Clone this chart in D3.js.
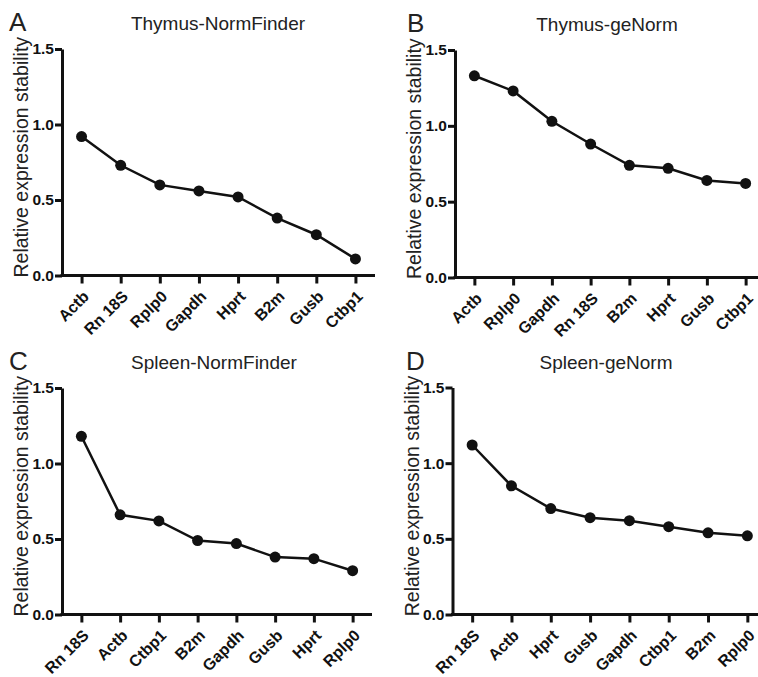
<!DOCTYPE html>
<html>
<head>
<meta charset="utf-8">
<script src="https://cdn.jsdelivr.net/npm/d3@7"></script>
<style>
  body { margin: 0; background: #fff; }
  text { font-family: "Liberation Sans", Arial, sans-serif; }
</style>
</head>
<body>
<div id="chart"></div>
<script>
// data
const thymusNormFinderGenes = ["Actb", "Rn 18S", "Rplp0", "Gapdh", "Hprt", "B2m", "Gusb", "Ctbp1"];
const thymusNormFinderValues = [0.92, 0.73, 0.6, 0.56, 0.52, 0.38, 0.27, 0.11];

const thymusGeNormGenes = ["Actb", "Rplp0", "Gapdh", "Rn 18S", "B2m", "Hprt", "Gusb", "Ctbp1"];
const thymusGeNormValues = [1.33, 1.23, 1.03, 0.88, 0.74, 0.72, 0.64, 0.62];

const spleenNormFinderGenes = ["Rn 18S", "Actb", "Ctbp1", "B2m", "Gapdh", "Gusb", "Hprt", "Rplp0"];
const spleenNormFinderValues = [1.18, 0.66, 0.62, 0.49, 0.47, 0.38, 0.37, 0.29];

const spleenGeNormGenes = ["Rn 18S", "Actb", "Hprt", "Gusb", "Gapdh", "Ctbp1", "B2m", "Rplp0"];
const spleenGeNormValues = [1.12, 0.85, 0.7, 0.64, 0.62, 0.58, 0.54, 0.52];

const yTicks = [0, 0.5, 1.0, 1.5];
const yLabel = "Relative expression stability";

const W = 758,
  H = 677;

var svg = d3
  .select("#chart")
  .append("svg")
  .attr("width", W)
  .attr("height", H);

// one panel per method/tissue
function drawPanel(p) {
  var x = d3.scalePoint().domain(p.genes).range([p.left, p.right]).padding(0.5);
  var y = d3.scaleLinear().domain([0, 1.5]).range([p.bottom, p.top]);

  var g = svg.append("g");

  // y axis
  var yAxis = g
    .append("g")
    .attr("transform", "translate(" + p.left + ",0)")
    .call(
      d3.axisLeft(y).tickValues(yTicks).tickFormat(d3.format(".1f")).tickSize(7).tickSizeOuter(0)
    );
  yAxis.selectAll("path, line").attr("stroke", "#111").attr("stroke-width", 3);
  yAxis
    .selectAll("text")
    .attr("x", -8)
    .attr("font-size", 15.5)
    .attr("font-weight", "bold")
    .attr("fill", "#111");

  // x axis
  var xAxis = g
    .append("g")
    .attr("transform", "translate(0," + p.bottom + ")")
    .call(d3.axisBottom(x).tickSize(8).tickSizeOuter(0));
  xAxis.select("path.domain").attr("d", "M" + (p.left - 1.5) + ",0H" + p.right);
  xAxis.selectAll("path, line").attr("stroke", "#111").attr("stroke-width", 3);
  xAxis
    .selectAll("text")
    .attr("x", 0)
    .attr("y", 0)
    .attr("dy", "0.35em")
    .attr("text-anchor", "end")
    .attr("transform", "translate(4,18) rotate(-45)")
    .attr("font-size", 16)
    .attr("font-weight", "bold")
    .attr("fill", "#111");

  // line + dots
  var pts = p.genes.map(function (d, i) {
    return { gene: d, value: p.values[i] };
  });
  g.append("path")
    .datum(pts)
    .attr("fill", "none")
    .attr("stroke", "#111")
    .attr("stroke-width", 2.5)
    .attr(
      "d",
      d3
        .line()
        .x(function (d) {
          return x(d.gene);
        })
        .y(function (d) {
          return y(d.value);
        })
    );
  g.selectAll("circle")
    .data(pts)
    .enter()
    .append("circle")
    .attr("cx", function (d) {
      return x(d.gene);
    })
    .attr("cy", function (d) {
      return y(d.value);
    })
    .attr("r", 5.5)
    .attr("fill", "#111");

  // y label
  g.append("text")
    .attr("transform", "translate(" + (p.left - 34) + "," + ((p.top + p.bottom) / 2 - 5) + ") rotate(-90)")
    .attr("text-anchor", "middle")
    .attr("font-size", 19.5)
    .attr("fill", "#222")
    .text(yLabel);

  // title + panel letter
  g.append("text")
    .attr("x", p.titleX)
    .attr("y", p.top - 19)
    .attr("text-anchor", "middle")
    .attr("font-size", 19)
    .attr("fill", "#222")
    .text(p.title);
  g.append("text")
    .attr("x", p.letterX)
    .attr("y", p.top - 18)
    .attr("font-size", 26)
    .attr("fill", "#222")
    .text(p.letter);
}

drawPanel({
  letter: "A",
  title: "Thymus-NormFinder",
  genes: thymusNormFinderGenes,
  values: thymusNormFinderValues,
  left: 62, right: 375, top: 49, bottom: 275.5,
  titleX: 218, letterX: 9,
});
drawPanel({
  letter: "B",
  title: "Thymus-geNorm",
  genes: thymusGeNormGenes,
  values: thymusGeNormValues,
  left: 455, right: 765, top: 50, bottom: 277.5,
  titleX: 607, letterX: 407,
});
drawPanel({
  letter: "C",
  title: "Spleen-NormFinder",
  genes: spleenNormFinderGenes,
  values: spleenNormFinderValues,
  left: 62, right: 372, top: 388, bottom: 614.5,
  titleX: 214, letterX: 9,
});
drawPanel({
  letter: "D",
  title: "Spleen-geNorm",
  genes: spleenGeNormGenes,
  values: spleenGeNormValues,
  left: 452.5, right: 767, top: 387.5, bottom: 614.5,
  titleX: 606, letterX: 406,
});
</script>
</body>
</html>
